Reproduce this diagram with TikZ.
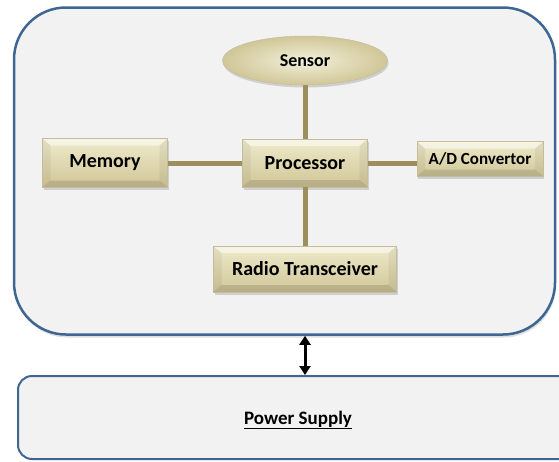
\documentclass[tikz,border=0pt]{standalone}
\usepackage{fontspec}
\setmainfont{Carlito}
\usepackage{tikz}
\usetikzlibrary{shapes,arrows.meta,shadows}
\definecolor{frameblue}{HTML}{3F6592}
\definecolor{panegray}{HTML}{F2F2F2}
\definecolor{olive}{HTML}{9C8F5C}
\definecolor{tanlight}{HTML}{EEEACB}
\definecolor{tandark}{HTML}{D0C697}

\begin{document}
\begin{tikzpicture}[x=1pt,y=-1pt,
  pane/.style={draw=frameblue,fill=panegray,line width=2.5pt},
  blk/.style={rectangle,draw=olive!60,top color=tanlight,bottom color=tandark,
    font=\bfseries\fontsize{20}{22}\selectfont,inner sep=0pt,
    drop shadow={shadow xshift=1pt,shadow yshift=-2.5pt,opacity=.3},
    path picture={
      \path (path picture bounding box.north west) coordinate (pa)
            (path picture bounding box.north east) coordinate (pb)
            (path picture bounding box.south east) coordinate (pc)
            (path picture bounding box.south west) coordinate (pd);
      \fill[white,opacity=.5] (pa) -- (pb) -- ([shift={(-8pt,-7pt)}]pb) -- ([shift={(8pt,-7pt)}]pa) -- cycle;
      \fill[black,opacity=.12] (pd) -- (pc) -- ([shift={(-8pt,7pt)}]pc) -- ([shift={(8pt,7pt)}]pd) -- cycle;
      \fill[black,opacity=.05] (pa) -- ([shift={(8pt,-7pt)}]pa) -- ([shift={(8pt,7pt)}]pd) -- (pd) -- cycle;
      \fill[black,opacity=.05] (pb) -- ([shift={(-8pt,-7pt)}]pb) -- ([shift={(-8pt,7pt)}]pc) -- (pc) -- cycle;
    }},
  wire/.style={olive,line width=5pt},
  dbl/.style={{Triangle[width=11pt,length=9pt]}-{Triangle[width=11pt,length=9pt]},line width=3pt}]
\useasboundingbox (0,0) rectangle (559,461);
\node[pane,rounded corners=52pt,minimum width=541pt,minimum height=327pt,
  drop shadow={shadow xshift=1pt,shadow yshift=-3pt,opacity=.25}] (mote) at (284.5,171) {};
\node[pane,line width=2pt,rounded corners=14pt,minimum width=557pt,minimum height=83pt] (power) at (296.5,417.5) {};
\node[font=\bfseries\fontsize{19}{21}\selectfont] (psu) at (298,420) {\underline{Power Supply}};
\node[ellipse,draw=olive!60,inner color=tanlight!70!white,outer color=tandark,
  minimum width=165pt,minimum height=49pt,font=\bfseries\fontsize{18}{20}\selectfont,
  drop shadow={shadow xshift=1pt,shadow yshift=-2.5pt,opacity=.3}] (sensor) at (305,60.5) {Sensor};
\node[blk,minimum width=125pt,minimum height=48pt] (proc) at (305,163) {Processor};
\node[blk,minimum width=125pt,minimum height=49pt] (mem) at (105,163) {Memory};
\node[blk,minimum width=126pt,minimum height=35pt,font=\bfseries\fontsize{17}{19}\selectfont] (adc) at (480,159) {A/D Convertor};
\node[blk,minimum width=183pt,minimum height=46pt] (radio) at (305,269) {Radio Transceiver};
\draw[wire] (sensor.south) -- (proc.north);
\draw[wire] (mem.east) -- (proc.west);
\draw[wire] (proc.east) -- (proc.east -| adc.west);
\draw[wire] (proc.south) -- (radio.north);
\draw[dbl] (proc |- mote.south) -- (proc |- power.north);
\end{tikzpicture}
\end{document}
